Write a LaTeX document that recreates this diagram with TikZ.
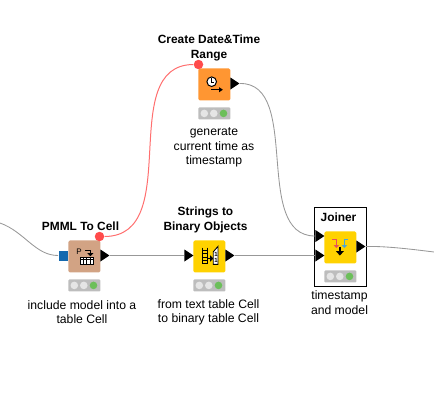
\documentclass[tikz,border=0pt]{standalone}
\usepackage{fontspec}
\setmainfont{Liberation Sans}
\usetikzlibrary{shapes.geometric,calc}
\definecolor{knorange}{HTML}{FF9632}
\definecolor{knbrown}{HTML}{D2A384}
\definecolor{knyellow}{HTML}{FFD200}
\definecolor{knred}{HTML}{FF4B4B}
\definecolor{knblue}{HTML}{1469AF}
\definecolor{knsky}{HTML}{4BA6D8}
\definecolor{knpink}{HTML}{E8505B}
\definecolor{kngreen}{HTML}{6CBF5A}
\definecolor{kngray}{HTML}{BDBDBD}
\definecolor{knwire}{HTML}{989898}

\begin{document}
\begin{tikzpicture}[x=1pt,y=-1pt,
					line width=0.8pt,
					main node/.style={rectangle,rounded corners=1.5pt,minimum size=32pt,inner sep=0pt,anchor=north west},
					status node/.style={rectangle,rounded corners=1pt,fill=kngray,minimum width=32pt,minimum height=12pt,inner sep=0pt,anchor=north west},
					lamp/.style={circle,inner sep=0pt,minimum size=7.6pt},
					data port/.style={isosceles triangle,isosceles triangle apex angle=60,isosceles triangle stretches,fill=black,minimum width=12pt,minimum height=9pt,inner sep=0pt,anchor=west},
					model port/.style={rectangle,fill=knblue,minimum width=9pt,minimum height=10pt,inner sep=0pt,anchor=east},
					var port/.style={circle,fill=knred,minimum size=9.5pt,inner sep=0pt},
					title/.style={align=center,font=\fontsize{11.9}{15}\selectfont\bfseries,inner sep=0pt},
					note/.style={align=center,font=\fontsize{12.2}{14.3}\selectfont,inner sep=0pt},
					wire/.style={draw=knwire,line width=0.85pt}]

  \useasboundingbox (0,0) rectangle (434,400);

  \coordinate (start) at (0,223);
  \coordinate (end) at (434,252);

  % nodes
  \node[main node,fill=knorange] (date) at (198,68) {};
  \node[main node,fill=knbrown] (pmml) at (68,240) {};
  \node[main node,fill=knyellow] (binary) at (193,240) {};
  \node[main node,fill=knyellow] (joiner) at (324,231) {};
  \node[draw=black,line width=1pt,minimum width=51.5pt,minimum height=79pt,inner sep=0pt,anchor=north west] (joinerframe) at (314,207) {};

  \node[status node] (datestatus) at (198,107) {};
  \node[status node] (pmmlstatus) at (68,279) {};
  \node[status node] (binarystatus) at (193,279) {};
  \node[status node] (joinerstatus) at (324,270) {};
  \foreach \s in {datestatus,pmmlstatus,binarystatus,joinerstatus} {
    \node[lamp,fill=white!90!black] at ($(\s.west)+(6.3,0)$) {};
    \node[lamp,fill=white!90!black] at ($(\s.west)+(15.8,0)$) {};
    \node[lamp,fill=kngreen] at ($(\s.west)+(25.5,0)$) {};
  }

  % ports
  \node[data port] (dateout) at (230,83.5) {};
  \node[var port] (datevar) at (198.5,64.5) {};
  \node[model port] (pmmlin) at (68,255.5) {};
  \node[data port] (pmmlout) at (100,255.5) {};
  \node[var port] (pmmlvar) at (99.5,236.5) {};
  \node[data port] (binaryin) at (184,255.5) {};
  \node[data port] (binaryout) at (225,255.5) {};
  \node[data port] (joinertop) at (315,236) {};
  \node[data port] (joinerbottom) at (315,255.5) {};
  \node[data port] (joinerout) at (356,246.5) {};

  % connectors
  \draw[wire] (start) .. controls (25,232) and (35,255.5) .. (pmmlin.west);
  \draw[wire] (pmmlout.east) -- (binaryin.west);
  \draw[wire] (binaryout.east) -- (joinerbottom.west);
  \draw[wire] (dateout.east) .. controls (302,83) and (252,236) .. (joinertop.west);
  \draw[wire] (joinerout.east) .. controls (385,246) and (410,249) .. (end);
  \draw[draw=knred!80!white,line width=1pt] (pmmlvar.east) .. controls (185,236) and (115,65) .. (datevar.west);

  % icons
  \draw[fill=white,line width=1pt] ($(date.center)+(-2.7,-2.7)$) circle (4.8);
  \draw[line width=0.7pt] ($(date.center)+(-2.7,-6)$) -- ++(0,3.5) -- ++(2.6,0);
  \fill ($(date.center)+(-3.7,4.8)$) rectangle ++(8.6,1);
  \fill ($(date.center)+(4.6,2.7)$) -- ++(3.8,2.6) -- ++(-3.8,2.6) -- cycle;

  \node[font=\fontsize{8}{8}\selectfont,inner sep=0pt] (pmmlp) at ($(pmml.center)+(-5.3,-4.3)$) {P};
  \draw[line width=1pt] ($(pmml.center)+(0.7,-5.7)$) -- ++(5.3,0) -- ++(0,3);
  \fill ($(pmml.center)+(3,-3.2)$) -- ++(6,0) -- ++(-3,3) -- cycle;
  \draw[fill=white,line width=1pt] ($(pmml.center)+(-4.3,0.7)$) rectangle ++(13.3,7.3);
  \draw[line width=0.8pt] ($(pmml.center)+(-4.3,3.3)$) -- ++(13.3,0);
  \foreach \k in {3.3,6.6,9.9} \draw[line width=0.8pt] ($(pmml.center)+(-4.3,0.7)+(\k,0)$) -- ++(0,7.3);

  \draw[line width=1pt] ($(binary.center)+(-7,-8.7)$) -- ++(0,16.7) ($(binary.center)+(-2.3,-8.7)$) -- ++(0,16.7);
  \foreach \k in {-6,-2.7,0.6,3.9,6.6} \draw[line width=0.9pt] ($(binary.center)+(-7,\k)$) -- ++(4.7,0);
  \fill ($(binary.center)+(-1,1.5)$) rectangle ++(3,1.2);
  \fill ($(binary.center)+(0.8,-1)$) -- ++(3.2,3.1) -- ++(-3.2,3.1) -- cycle;
  \draw[fill=white,line width=0.9pt] ($(binary.center)+(3.8,-4.5)$) -- ++(4.8,-5.5) -- ++(0,18) -- ++(-4.8,0) -- cycle;
  \node[font=\fontsize{6}{6}\selectfont\bfseries,inner sep=0pt] (binaryone) at ($(binary.center)+(6.6,-1.5)$) {1};
  \node[font=\fontsize{6}{6}\selectfont\bfseries,inner sep=0pt] (binarytwo) at ($(binary.center)+(6.6,4.5)$) {1};

  \draw[draw=knpink,line width=1pt] ($(joiner.center)+(-8,-7.7)$) -- ++(4,0) -- ++(0,5.7);
  \fill[knpink] ($(joiner.center)+(-6.7,-2.3)$) -- ++(5.4,0) -- ++(-2.7,3) -- cycle;
  \draw[draw=knsky,line width=1pt] ($(joiner.center)+(8,-7.7)$) -- ++(-4,0) -- ++(0,5.7);
  \fill[knsky] ($(joiner.center)+(1.3,-2.3)$) -- ++(5.4,0) -- ++(-2.7,3) -- cycle;
  \fill ($(joiner.center)+(-1.2,-0.3)$) rectangle ++(1.4,5);
  \fill ($(joiner.center)+(-4.5,3.7)$) -- ++(8,0) -- ++(-4,4.5) -- cycle;

  % labels
  \node[title] (datetitle) at (209,47.5) {Create Date\&Time\\Range};
  \node[note] (datenote) at (214,147.5) {generate\\current time as\\timestamp};
  \node[title] (pmmltitle) at (80.5,226) {PMML To Cell};
  \node[note] (pmmlnote) at (82,312) {include model into a\\table Cell};
  \node[title] (binarytitle) at (205.5,219.5) {Strings to\\Binary Objects};
  \node[note] (binarynote) at (208.5,312) {from text table Cell\\to binary table Cell};
  \node[title] (joinertitle) at (338.5,217) {Joiner};
  \node[note] (joinernote) at (339.5,302.5) {timestamp\\and model};
\end{tikzpicture}
\end{document}
